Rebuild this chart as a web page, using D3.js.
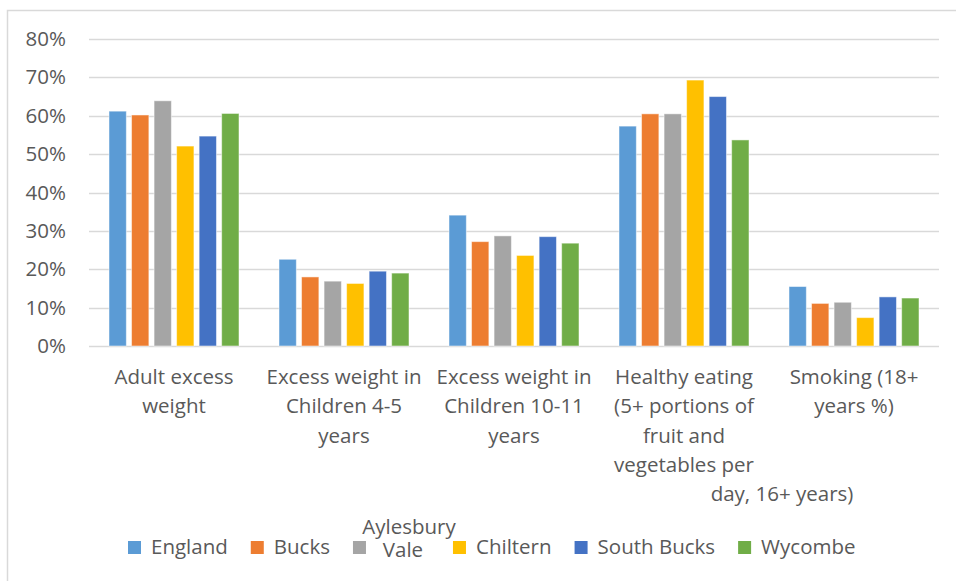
<!DOCTYPE html>
<html>
<head>
<meta charset="utf-8">
<script src="https://cdn.jsdelivr.net/npm/d3@7"></script>
<style>
  html, body { margin: 0; padding: 0; background: #fff; }
  svg { display: block; }
  text { font-family: "Open Sans", "Noto Sans", sans-serif; fill: #595959; }
</style>
</head>
<body>
<svg id="chart" width="956" height="581"></svg>
<script>
// Category labels (already broken into lines as they are set under the axis)
const categories = [
  "Adult excess weight",
  "Excess weight in Children 4-5 years",
  "Excess weight in Children 10-11 years",
  "Healthy eating (5+ portions of fruit and vegetables per day, 16+ years)",
  "Smoking (18+ years %)"
];
const categoryLines = [
  ["Adult excess", "weight"],
  ["Excess weight in", "Children 4-5", "years"],
  ["Excess weight in", "Children 10-11", "years"],
  ["Healthy eating", "(5+ portions of", "fruit and", "vegetables per", "day, 16+ years)"],
  ["Smoking (18+", "years %)"]
];

// Series (percentages, one value per category)
const seriesNames = ["England", "Bucks", "Aylesbury Vale", "Chiltern", "South Bucks", "Wycombe"];
const england       = [61.2, 22.6, 34.1, 57.3, 15.5];
const bucks         = [60.2, 18.0, 27.2, 60.5, 11.1];
const aylesburyVale = [63.9, 16.9, 28.7, 60.5, 11.4];
const chiltern      = [52.1, 16.3, 23.6, 69.3, 7.4];
const southBucks    = [54.7, 19.5, 28.5, 65.0, 12.8];
const wycombe       = [60.6, 19.0, 26.8, 53.7, 12.5];

const yTicks = [0, 10, 20, 30, 40, 50, 60, 70, 80];

const seriesColors = ["#5B9BD5", "#ED7D31", "#A5A5A5", "#FFC000", "#4472C4", "#70AD47"];
const seriesValues = [england, bucks, aylesburyVale, chiltern, southBucks, wycombe];

const svg = d3.select("#chart");
const W = 956, H = 581;
const plot = { left: 89, right: 939, top: 39, bottom: 346 };
const fontSize = 20.5;

// Chart frame (runs past the right and bottom edges)
svg.append("rect")
  .attr("x", 7.5).attr("y", 10.5)
  .attr("width", W + 10).attr("height", H + 10)
  .attr("fill", "none").attr("stroke", "#d9d9d9").attr("stroke-width", 1.5);

const y = d3.scaleLinear().domain([0, 80]).range([plot.bottom, plot.top]);
const x0 = d3.scaleBand().domain(categories).range([plot.left, plot.right]).padding(0);
const groupInset = 20;
const x1 = d3.scaleBand().domain(seriesNames)
  .range([groupInset, x0.bandwidth() - groupInset])
  .paddingInner(0.23).paddingOuter(0);
const color = d3.scaleOrdinal().domain(seriesNames).range(seriesColors);

// Gridlines
svg.append("g").selectAll("line")
  .data(yTicks)
  .join("line")
  .attr("x1", plot.left).attr("x2", plot.right)
  .attr("y1", d => Math.round(y(d)) + 0.5).attr("y2", d => Math.round(y(d)) + 0.5)
  .attr("stroke", "#d9d9d9").attr("stroke-width", 1.5);

// Y axis labels
const yAxis = d3.axisLeft(y).tickValues(yTicks).tickFormat(d => d + "%").tickSize(0).tickPadding(0);
const yg = svg.append("g").attr("transform", `translate(${66},0)`).call(yAxis);
yg.select(".domain").remove();
yg.selectAll("text")
  .attr("font-size", fontSize)
  .attr("font-family", "'Open Sans', sans-serif")
  .attr("fill", "#595959");

// Bars
const groups = svg.append("g").selectAll("g")
  .data(categories)
  .join("g")
  .attr("transform", d => `translate(${x0(d)},0)`);

groups.selectAll("rect")
  .data((c, ci) => seriesNames.map((s, si) => ({ series: s, value: seriesValues[si][ci] })))
  .join("rect")
  .attr("x", d => x1(d.series))
  .attr("width", x1.bandwidth())
  .attr("y", d => y(d.value))
  .attr("height", d => y(0) - y(d.value))
  .attr("fill", d => color(d.series))
  .attr("stroke", "#ffffff")
  .attr("stroke-opacity", 0.5)
  .attr("stroke-width", 1);

// Category axis labels
const lineHeight = 29.3;
const firstBaseline = 384;
const lastLineShift = { 3: { 4: 98 } }; // overflow line set off to the right
const xAxisG = svg.append("g");
categories.forEach((c, ci) => {
  const cx = x0(c) + x0.bandwidth() / 2;
  const t = xAxisG.append("text")
    .attr("text-anchor", "middle")
    .attr("font-size", fontSize);
  categoryLines[ci].forEach((ln, li) => {
    const shift = (lastLineShift[ci] && lastLineShift[ci][li]) || 0;
    t.append("tspan")
      .attr("x", cx + shift)
      .attr("y", firstBaseline + li * lineHeight)
      .text(ln);
  });
});

// Legend
const legend = svg.append("g");
const measure = svg.append("text").attr("font-size", fontSize).attr("visibility", "hidden");
function textWidth(s) { measure.text(s); return measure.node().getComputedTextLength(); }

const legendBaseline = 554;
const sw = 13, swGap = 10, itemGap = 23;
let lx = 128;
seriesNames.forEach((s, i) => {
  legend.append("rect")
    .attr("x", lx).attr("y", legendBaseline - 13)
    .attr("width", sw).attr("height", sw)
    .attr("fill", seriesColors[i]);
  const tx = lx + sw + swGap;
  const words = s.split(" ");
  let blockW;
  if (s === "Aylesbury Vale") {
    // wrapped entry: narrow text block, first word overflows both sides
    blockW = 54;
    legend.append("text").attr("font-size", fontSize).attr("text-anchor", "middle")
      .attr("x", tx + blockW / 2 + 6).attr("y", legendBaseline - 20).text(words[0]);
    legend.append("text").attr("font-size", fontSize).attr("text-anchor", "middle")
      .attr("x", tx + blockW / 2).attr("y", legendBaseline + 3).text(words[1]);
  } else {
    blockW = textWidth(s);
    legend.append("text").attr("font-size", fontSize)
      .attr("x", tx).attr("y", legendBaseline).text(s);
  }
  lx = tx + blockW + itemGap;
});
measure.remove();
</script>
</body>
</html>
